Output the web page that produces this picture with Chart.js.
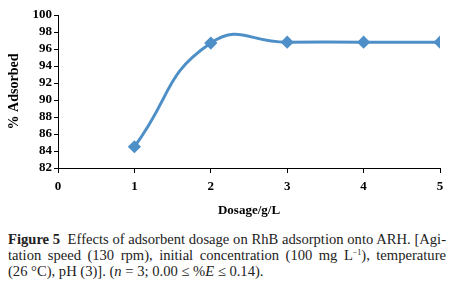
<!DOCTYPE html>
<html>
<head>
<meta charset="utf-8">
<script src="https://cdn.jsdelivr.net/npm/chart.js@4.4.0/dist/chart.umd.min.js"></script>
<style>
  body { margin: 0; background: #fff; width: 459px; height: 283px; overflow: hidden; }
  #wrap { position: absolute; left: 0; top: 0; width: 459px; height: 222px; }
  #caption {
    position: absolute; left: 8px; top: 231px; width: 438px;
    font-family: "Liberation Serif", serif; font-size: 14.6px; line-height: 16px;
    color: #222;
  }
  #caption div { white-space: nowrap; height: 16px; }
  #caption .j { text-align: justify; text-align-last: justify; }
  sup { font-size: 8px; line-height: 0; vertical-align: 5px; }
</style>
</head>
<body>
<div id="wrap"><canvas id="chartDosage" width="459" height="222"></canvas></div>
<div id="caption">
  <div class="j"><b>Figure 5</b>&nbsp; Effects of adsorbent dosage on RhB adsorption onto ARH. [Agi-</div>
  <div class="j">tation speed (130 rpm), initial concentration (100 mg L<sup>&minus;1</sup>), temperature</div>
  <div>(26 °C), pH (3)]. (<i>n</i> = 3; 0.00 ≤ %<i>E</i> ≤ 0.14).</div>
</div>
<script>
const dosage = [1, 2, 3, 4, 5];
const adsorbed = [84.5, 96.7, 96.8, 96.8, 96.8];
const xTicks = [0, 1, 2, 3, 4, 5];
const yTicks = [82, 84, 86, 88, 90, 92, 94, 96, 98, 100];

const tickFont = { family: "Liberation Serif", size: 13, weight: "bold" };

document.addEventListener("DOMContentLoaded", function () {
    const ctx = document.getElementById("chartDosage").getContext("2d");

    new Chart(ctx, {
        type: "line",
        data: {
            datasets: [
                {
                    data: dosage.map((d, i) => ({ x: d, y: adsorbed[i] })),
                    borderColor: "#4f8fc8",
                    backgroundColor: "#4f8fc8",
                    borderWidth: 3,
                    pointStyle: "rectRot",
                    pointRadius: 4.5,
                    tension: 0.5,
                    fill: false,
                },
            ],
        },
        options: {
            responsive: false,
            animation: false,
            layout: { padding: { top: 15, right: 19, left: 0, bottom: 0 } },
            plugins: { legend: { display: false }, tooltip: { enabled: false } },
            scales: {
                x: {
                    type: "linear",
                    min: 0,
                    max: 5,
                    afterBuildTicks: (s) => { s.ticks = xTicks.map((v) => ({ value: v })); },
                    grid: { drawOnChartArea: false, color: "#000", tickLength: 5 },
                    border: { color: "#000", width: 1 },
                    ticks: { color: "#000", font: tickFont, padding: 6, autoSkip: false, maxRotation: 0 },
                    title: { display: true, text: "Dosage/g/L", color: "#000", font: tickFont, padding: { top: 5 } },
                    afterFit: (s) => { s.height = 54; },
                },
                y: {
                    min: 82,
                    max: 100,
                    afterBuildTicks: (s) => { s.ticks = yTicks.map((v) => ({ value: v })); },
                    grid: { drawOnChartArea: false, color: "#000", tickLength: 4 },
                    border: { color: "#000", width: 1 },
                    ticks: { color: "#000", font: tickFont, padding: 2, autoSkip: false },
                    title: { display: true, text: "% Adsorbed", color: "#000", font: { family: "Liberation Serif", size: 14, weight: "bold" }, padding: 6 },
                    afterFit: (s) => { s.width = 58; },
                },
            },
        },
    });
});
</script>
</body>
</html>
